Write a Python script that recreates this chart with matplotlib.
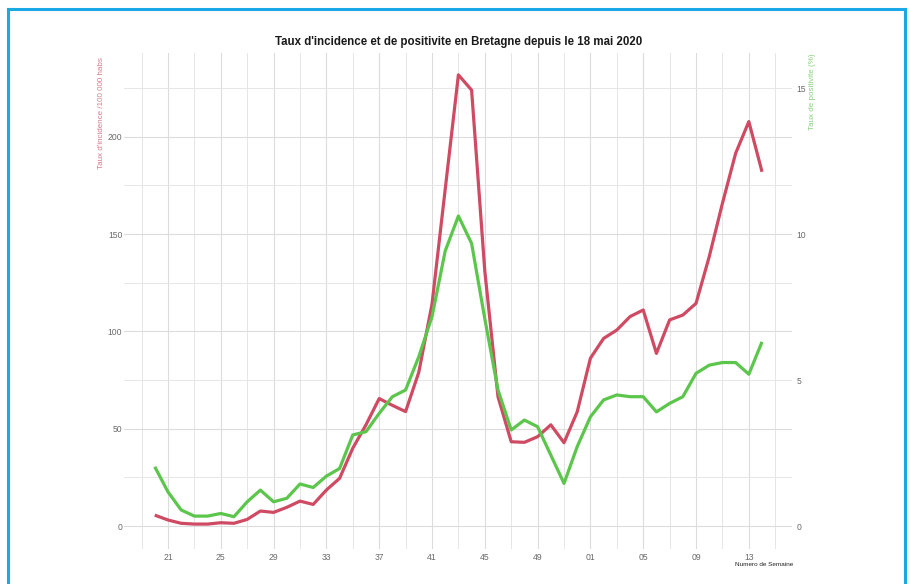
import matplotlib
matplotlib.use("Agg")
import matplotlib.pyplot as plt
from matplotlib.lines import Line2D
import numpy as np

weeks = list(range(20, 53)) + list(range(1, 15))
incidence = [5.6, 3.1, 1.4, 1.0, 1.0, 1.7, 1.4, 3.4, 7.7, 7.0, 9.6, 12.8, 11.1, 18.5, 24.5,
             40.0, 52.0, 65.5, 62.0, 58.8, 79.0, 114.0, 173.0, 231.8, 224.0, 131.0, 66.4,
             43.3, 43.0, 45.9, 52.0, 42.8, 58.7, 86.2, 96.4, 100.7, 107.6, 111.0, 88.7,
             105.9, 108.4, 114.4, 138.4, 165.8, 191.5, 207.8, 182.0]
positivite = [2.03, 1.17, 0.55, 0.34, 0.34, 0.43, 0.32, 0.83, 1.23, 0.83, 0.95, 1.44, 1.32,
              1.71, 1.97, 3.12, 3.23, 3.86, 4.43, 4.66, 5.80, 7.17, 9.42, 10.62, 9.68, 7.1,
              4.66, 3.29, 3.63, 3.40, 2.43, 1.46, 2.72, 3.74, 4.32, 4.49, 4.43, 4.43, 3.91,
              4.20, 4.43, 5.23, 5.51, 5.60, 5.60, 5.20, 6.31]
week_labels = ["%02d" % w for w in weeks]

title = "Taux d'incidence et de positivite en Bretagne depuis le 18 mai 2020"
ylabel_left = "Taux d'incidence /100 000 habs"
ylabel_right = "Taux de positivite (%)"
xlabel = "Numero de Semaine"

red = "#CF4A63"
green = "#5CC64C"

plt.rcParams['font.family'] = ['Liberation Sans', 'DejaVu Sans']

W, H = 912, 584
fig = plt.figure(figsize=(W / 100, H / 100), dpi=100)
L, R, T, B = 124.4, 792.4, 52.7, 548.6
ax = fig.add_axes([L / W, 1 - B / H, (R - L) / W, (B - T) / H])
ax2 = ax.twinx()

x = np.arange(len(weeks))
n = len(weeks)
ymin, ymax = -11.6, 243.2
ax.set_xlim(-0.05 * (n - 1), (n - 1) * 1.05)
ax.set_ylim(ymin, ymax)
ax2.set_ylim(ymin / 15, ymax / 15)

major_x = list(range(1, n, 4))
minor_x = [i for i in range(-1, n + 2, 4)]
ax.set_xticks(major_x)
ax.set_xticklabels([week_labels[i] for i in major_x])
ax.set_xticks(minor_x, minor=True)
ax.set_yticks([0, 50, 100, 150, 200])
ax.set_yticks([25, 75, 125, 175, 225], minor=True)
ax2.set_yticks([0, 5, 10, 15])

ax.grid(which='major', color='#dcdcdc', linewidth=0.8)
ax.grid(which='minor', color='#e6e6e6', linewidth=0.7)
ax.set_axisbelow(True)

for a in (ax, ax2):
    for s in a.spines.values():
        s.set_visible(False)
    a.tick_params(which='both', length=0, labelsize=6.2, labelcolor='#6a6a6a')
ax.tick_params(axis='x', pad=3)
ax.tick_params(axis='y', pad=1.5)
ax2.tick_params(axis='y', pad=3)

ax.plot(x, incidence, color=red, linewidth=2.3, solid_capstyle='butt', zorder=3)
ax2.plot(x, positivite, color=green, linewidth=2.3, solid_capstyle='butt', zorder=3)

fig.text(459 / W, 1 - 42 / H, title, ha='center', va='center', fontsize=8.3,
         fontweight='bold', color='#1a1a1a')
fig.text(102 / W, 1 - 113 / H, ylabel_left, rotation=90, ha='center', va='center',
         fontsize=5.8, color='#D5798B')
fig.text(813 / W, 1 - 92 / H, ylabel_right, rotation=90, ha='center', va='center',
         fontsize=5.8, color='#86D27A')
fig.text(793 / W, 1 - 565 / H, xlabel, ha='right', va='center', fontsize=4.6,
         color='#222222')

bc = '#1AA8E6'
fig.add_artist(Line2D([8 / W, 905 / W], [1 - 8.5 / H, 1 - 8.5 / H], color=bc, linewidth=2.2,
                      transform=fig.transFigure))
fig.add_artist(Line2D([8 / W, 8 / W], [0, 1 - 8.5 / H], color=bc, linewidth=2.2,
                      transform=fig.transFigure))
fig.add_artist(Line2D([905 / W, 905 / W], [0, 1 - 8.5 / H], color=bc, linewidth=2.2,
                      transform=fig.transFigure))

fig.savefig("out.png", dpi=100, facecolor='white')
